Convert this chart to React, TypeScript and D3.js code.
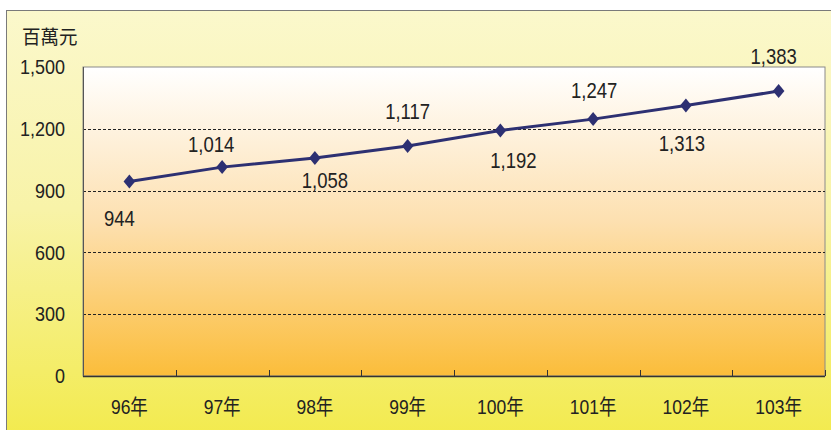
import * as d3 from 'd3';

const years = ['96年', '97年', '98年', '99年', '100年', '101年', '102年', '103年'];
const values = [944, 1014, 1058, 1117, 1192, 1247, 1313, 1383];
const yTicks = [0, 300, 600, 900, 1200, 1500];

// hand-placed data labels in the original, offsets from each point
const labelDx = [-10, -11, 10, 0, 13, 1, -4, -5];
const labelDy = [36, -23, 22, -35, 30, -29, 37, -35];

const W = 831;
const H = 430;
const m = { left: 83, top: 67, right: 825, bottom: 376 };
const font = 'Arial, "Liberation Sans", "Noto Sans CJK TC", sans-serif';

// the original picture is slightly stretched vertically
const Label = ({ x, y, size, sy, anchor = 'middle', children }: any) => (
  <text
    transform={`translate(${x},${y}) scale(1,${sy})`}
    dy="0.36em"
    textAnchor={anchor}
    fontSize={size}
    fill="#222"
  >
    {children}
  </text>
);

export default function App() {
  const x = d3.scaleBand().domain(years).range([m.left, m.right]);
  const y = d3.scaleLinear().domain([0, 1500]).range([m.bottom, m.top]);
  const cx = (d: string) => (x(d) ?? 0) + x.bandwidth() / 2;

  const line = d3
    .line<number>()
    .x((_, i) => cx(years[i]))
    .y((d) => y(d));
  const diamond = 'M0,-7L5.8,0L0,7L-5.8,0Z';

  return (
    <svg width={W} height={H} style={{ position: 'absolute', left: 0, top: 0 }} fontFamily={font}>
      <defs>
        <linearGradient id="outer" x1="0" y1="0" x2="0" y2="1">
          <stop offset="0" stopColor="#fbf8cc" />
          <stop offset="0.45" stopColor="#f8f3a8" />
          <stop offset="1" stopColor="#f2ea48" />
        </linearGradient>
        <linearGradient id="plot" x1="0" y1="0" x2="0" y2="1">
          <stop offset="0" stopColor="#ffffff" />
          <stop offset="0.5" stopColor="#fde0b0" />
          <stop offset="1" stopColor="#fbbd3a" />
        </linearGradient>
      </defs>
      <rect x={0} y={0} width={W} height={H} fill="#ffffff" />
      <rect x={6.5} y={10.5} width={W + 10} height={H + 10} fill="url(#outer)" stroke="#7a7a7a" />

      <rect
        x={m.left}
        y={m.top}
        width={m.right - m.left}
        height={m.bottom - m.top}
        fill="url(#plot)"
        stroke="#8a8a8a"
      />

      {yTicks
        .filter((t) => t > 0 && t < 1500)
        .map((t) => (
          <line
            key={t}
            x1={m.left}
            x2={m.right}
            y1={Math.round(y(t)) + 0.5}
            y2={Math.round(y(t)) + 0.5}
            stroke="#222"
            strokeDasharray="3,2"
            strokeWidth={1}
          />
        ))}

      <line x1={m.left} x2={m.right} y1={m.bottom + 0.5} y2={m.bottom + 0.5} stroke="#333" strokeWidth={1.5} />
      <line x1={m.left + 0.5} x2={m.left + 0.5} y1={m.top} y2={m.bottom} stroke="#555" />
      {years.slice(1).map((d) => (
        <line
          key={d}
          x1={Math.round(x(d) ?? 0) + 0.5}
          x2={Math.round(x(d) ?? 0) + 0.5}
          y1={m.bottom}
          y2={m.bottom - 6}
          stroke="#333"
        />
      ))}
      <line x1={m.right + 0.5} x2={m.right + 0.5} y1={m.bottom} y2={m.bottom - 6} stroke="#333" />

      {yTicks.map((t) => (
        <Label key={t} x={65} y={y(t)} size={18} sy={1.1} anchor="end">
          {d3.format(',')(t)}
        </Label>
      ))}
      {years.map((d) => (
        <Label key={d} x={cx(d)} y={406} size={17.5} sy={1.2}>
          {d}
        </Label>
      ))}
      <Label x={22} y={37} size={18.5} sy={1.05} anchor="start">
        百萬元
      </Label>

      <path d={line(values) ?? ''} fill="none" stroke="#2d3072" strokeWidth={3} />
      {values.map((v, i) => (
        <path key={i} d={diamond} transform={`translate(${cx(years[i])},${y(v)})`} fill="#2d3072" />
      ))}
      {values.map((v, i) => (
        <Label key={i} x={cx(years[i]) + labelDx[i]} y={y(v) + labelDy[i]} size={18.5} sy={1.2}>
          {d3.format(',')(v)}
        </Label>
      ))}
    </svg>
  );
}
